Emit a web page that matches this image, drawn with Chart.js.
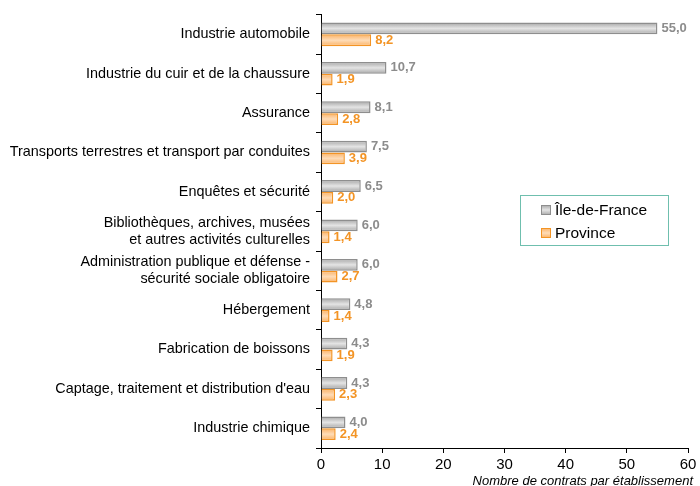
<!DOCTYPE html>
<html>
<head>
<meta charset="utf-8">
<script src="https://cdn.jsdelivr.net/npm/chart.js@4"></script>
<style>
  html, body { margin: 0; padding: 0; background: #fff; }
  #wrap { width: 700px; height: 486px; }
</style>
</head>
<body>
<div id="wrap"><canvas id="chart" width="700" height="486"></canvas></div>
<script>
// ===== Data =====
const categories = [
  'Industrie automobile',
  'Industrie du cuir et de la chaussure',
  'Assurance',
  'Transports terrestres et transport par conduites',
  'Enquêtes et sécurité',
  ['Bibliothèques, archives, musées', 'et autres activités culturelles'],
  ['Administration publique et défense -', 'sécurité sociale obligatoire'],
  'Hébergement',
  'Fabrication de boissons',
  "Captage, traitement et distribution d'eau",
  'Industrie chimique'
]
const ileDeFrance = [55.0, 10.7, 8.1, 7.5, 6.5, 6.0, 6.0, 4.8, 4.3, 4.3, 4.0]
const province = [8.2, 1.9, 2.8, 3.9, 2.0, 1.4, 2.7, 1.4, 1.9, 2.3, 2.4]
const xTicks = [0, 10, 20, 30, 40, 50, 60]
const axisTitle = 'Nombre de contrats par établissement'

const FONT = 'Arial, "Liberation Sans", sans-serif'
const fmt = v => v.toFixed(1).replace('.', ',')

// gray / orange styles (edge, middle, border, label)
const series = [
  { label: 'Île-de-France', data: ileDeFrance, edge: '#a6a6a6', mid: '#e4e4e4', border: '#8e8e8e', text: '#8c8c8c' },
  { label: 'Province', data: province, edge: '#fbb163', mid: '#fedcb8', border: '#f39425', text: '#f39425' }
]

function barGradient(ctx, top, bottom, s) {
  const g = ctx.createLinearGradient(0, top, 0, bottom)
  g.addColorStop(0, s.edge)
  g.addColorStop(0.5, s.mid)
  g.addColorStop(1, s.edge)
  return g
}

// cylinder-like shading on each bar (copy the shared options first)
const shading = {
  id: 'shading',
  beforeDatasetsDraw(chart) {
    const ctx = chart.ctx
    chart.data.datasets.forEach((ds, i) => {
      chart.getDatasetMeta(i).data.forEach(bar => {
        const h = bar.height / 2
        bar.options = Object.assign({}, bar.options, {
          backgroundColor: barGradient(ctx, bar.y - h, bar.y + h, series[i])
        })
      })
    })
  }
}

// value labels at the end of each bar
const valueLabels = {
  id: 'valueLabels',
  afterDatasetsDraw(chart) {
    const ctx = chart.ctx
    ctx.save()
    ctx.font = 'bold 13px ' + FONT
    ctx.textBaseline = 'middle'
    ctx.textAlign = 'left'
    chart.data.datasets.forEach((ds, i) => {
      ctx.fillStyle = series[i].text
      chart.getDatasetMeta(i).data.forEach((bar, j) => {
        ctx.fillText(fmt(ds.data[j]), bar.x + 4, bar.y)
      })
    })
    ctx.restore()
  }
}

// boxed legend inside the plot + axis title
const extras = {
  id: 'extras',
  afterDraw(chart) {
    const ctx = chart.ctx
    const x = 520, y = 195, w = 148, h = 50
    ctx.save()
    ctx.fillStyle = '#fff'
    ctx.fillRect(x, y, w, h)
    ctx.strokeStyle = '#6fbfae'
    ctx.lineWidth = 1
    ctx.strokeRect(x + 0.5, y + 0.5, w, h)
    ctx.font = '15.5px ' + FONT
    ctx.textBaseline = 'middle'
    series.forEach((s, i) => {
      const ry = y + 15 + i * 23
      ctx.fillStyle = barGradient(ctx, ry - 5, ry + 5, s)
      ctx.fillRect(x + 21, ry - 5, 10, 10)
      ctx.strokeStyle = s.border
      ctx.strokeRect(x + 21.5, ry - 4.5, 9, 9)
      ctx.fillStyle = '#000'
      ctx.fillText(s.label, x + 35, ry + 1)
    })

    ctx.font = 'italic 13px ' + FONT
    ctx.textAlign = 'right'
    ctx.textBaseline = 'alphabetic'
    ctx.fillText(axisTitle, 693, 485)
    ctx.restore()
  }
}

new Chart(document.getElementById('chart').getContext('2d'), {
  type: 'bar',
  data: {
    labels: categories,
    datasets: series.map(s => ({
      label: s.label,
      data: s.data,
      backgroundColor: s.mid,
      borderColor: s.border,
      borderWidth: 1.5,
      borderSkipped: 'left',
      categoryPercentage: 0.6,
      barPercentage: 1
    }))
  },
  options: {
    indexAxis: 'y',
    responsive: false,
    animation: false,
    layout: { padding: { top: 7, right: 12, left: 0, bottom: 0 } },
    plugins: { legend: { display: false }, tooltip: { enabled: false } },
    scales: {
      x: {
        min: 0,
        max: 60,
        afterBuildTicks: scale => { scale.ticks = xTicks.map(v => ({ value: v })) },
        afterFit: scale => { scale.height = 38 },
        border: { color: '#000', width: 1 },
        grid: { drawOnChartArea: false, tickLength: 5, color: '#000' },
        ticks: { color: '#000', font: { family: FONT, size: 15 }, padding: 3, maxRotation: 0 }
      },
      y: {
        afterFit: scale => { scale.width = 321 },
        border: { color: '#000', width: 1 },
        grid: { drawOnChartArea: false, offset: true, tickLength: 5, color: '#000' },
        ticks: { color: '#000', font: { family: FONT, size: 14.4 }, padding: 6 }
      }
    }
  },
  plugins: [shading, valueLabels, extras]
})
</script>
</body>
</html>
